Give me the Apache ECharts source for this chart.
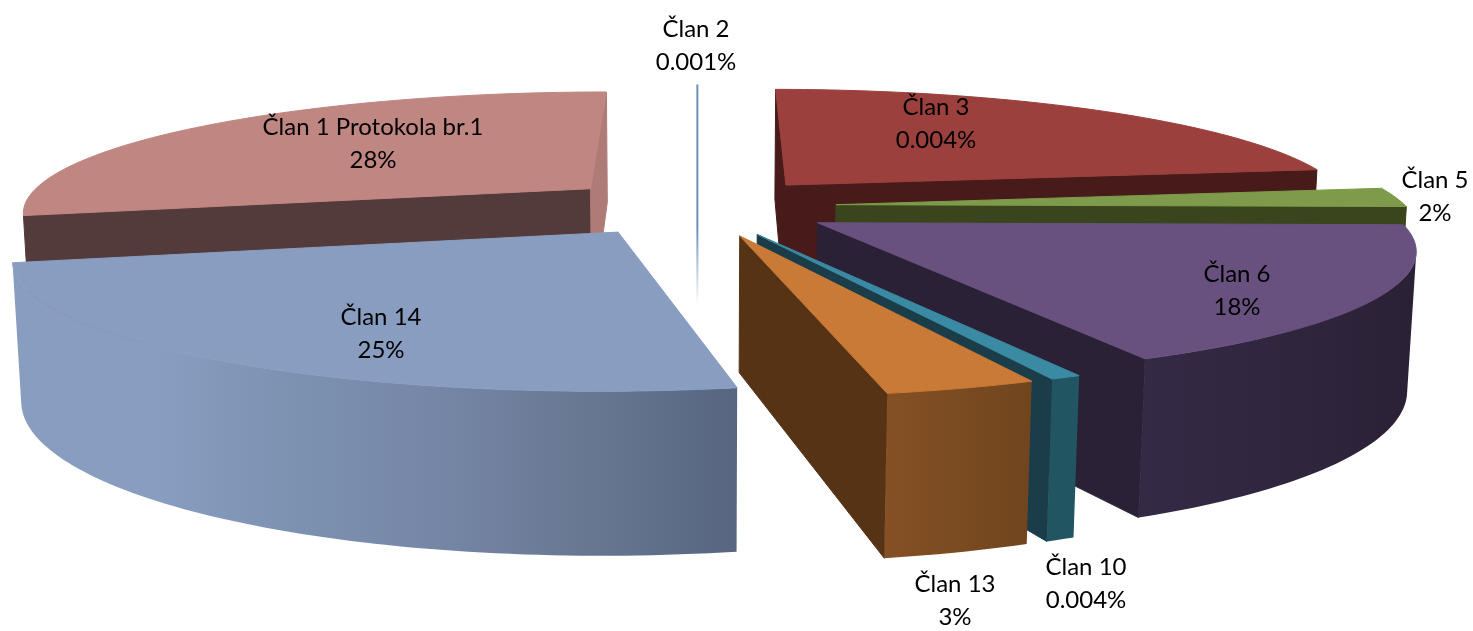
<!DOCTYPE html>
<html><head><meta charset="utf-8">
<style>html,body{margin:0;padding:0;background:#fff}#c{width:1473px;height:631px}</style>
<script src="https://cdn.jsdelivr.net/npm/echarts@6/dist/echarts.min.js"></script>
</head><body><div id="c"></div>
<script>
// Clockwise from 12 o'clock. sweepShare = share of the circle as drawn; shownPercent = printed label.
const names = ['Član 2','Član 3','Član 5','Član 6','Član 10','Član 13','Član 14','Član 1 Protokola br.1'];
const sweepShare = [0.1, 22.7, 2.5, 17.65, 0.7, 3.42, 24.43, 28.7];
const shownPercent = ['0.001%','0.004%','2%','18%','0.004%','3%','25%','28%'];
// styles
const topColors = ['#6b90b8','#9c403d','#7d9b4a','#69517f','#3b8aa3','#c97a36','#889dc0','#c08682'];
const startWall = ['#6b90b8','#471b19','#3a451d','#2b2136','#1a3d49','#1a3d49','#889dc0','#533b3b'];
const endWall   = ['#6b90b8','#471b19','#3a451d','#2b2136','#1a3d49','#573316','#889dc0','#ae7b77'];
const outerStops = [
  ['#6b90b8','#6b90b8'],['#471b19','#471b19'],['#3a451d','#3a451d'],
  ['#352a46','#2b2136'],['#225562','#225562'],['#855024','#70451e'],
  ['#889dc0','#889dc0','#7c91b0','#7585a5','#677791','#576580'],['#8f6a68','#c08682']
];
const paintOrder = [7,0,1,2,3,4,5,6];
const labelAt = [[696,46],[936,124],[1435,197],[1237,291],[1086,584],[955,601],[381,334],[373,144]];

const view = {cx:697, y0:206.5, R:570, k:120, a:0.18, m:133, b:0.012, explode:0.245};
const total = sweepShare.reduce((s,v)=>s+v,0);
const startShare = sweepShare.map((_,i)=>sweepShare.slice(0,i).reduce((s,v)=>s+v,0));

function project(X,Y,d){
  const w = 1 + view.a*Y + view.b*d;
  return [view.cx + view.R*X/w, view.y0 + (-view.k*Y + view.m*d)/w];
}
function area(p){let s=0;for(let i=0;i<p.length;i++){const q=p[(i+1)%p.length];s+=p[i][0]*q[1]-q[0]*p[i][1];}return s/2;}
function poly(points,fill,z2){return {type:'polygon',shape:{points},z2:z2||0,style:{fill,stroke:fill,lineWidth:1}};}

function renderItem(params, api){
  const i = api.value(0);
  const a0 = startShare[i]/total*2*Math.PI, a1 = (startShare[i]+sweepShare[i])/total*2*Math.PI, mid=(a0+a1)/2;
  const ax = view.explode*Math.sin(mid), ay = view.explode*Math.cos(mid);
  const n = Math.max(2,Math.ceil((a1-a0)/0.02));
  const rim = [];
  for(let j=0;j<=n;j++){const t=a0+(a1-a0)*j/n;rim.push([ax+Math.sin(t),ay+Math.cos(t)]);}
  const children = [];
  const slim = sweepShare[i] < 0.5;
  const T=(p)=>project(p[0],p[1],0), B=(p)=>project(p[0],p[1],1), A=[ax,ay];
  if(slim){
    const yTop=T(rim[0])[1], yBot=B(A)[1];
    const grad={type:'linear',global:true,x:0,y:yTop,x2:0,y2:yBot,colorStops:[{offset:0,color:topColors[i]},{offset:0.65,color:topColors[i]},{offset:1,color:'#ffffff'}]};
    children.push({type:'line',shape:{x1:T(rim[0])[0],y1:yTop,x2:B(A)[0],y2:yBot},style:{stroke:grad,lineWidth:2}});
  } else {
    const startQ=[T(A),T(rim[0]),B(rim[0]),B(A)];
    if(area(startQ)<0) children.push(poly(startQ,startWall[i]));
    const endQ=[T(rim[n]),T(A),B(A),B(rim[n])];
    if(area(endQ)<0) children.push(poly(endQ,endWall[i]));
    // outer wall: the strips that face the viewer, as one shape shaded left to right
    let first=-1,last=-1;
    for(let j=0;j<n;j++){
      const q=[T(rim[j]),T(rim[j+1]),B(rim[j+1]),B(rim[j])];
      if(area(q)<0){ if(first<0) first=j; last=j; }
    }
    if(first>=0){
      const arc=rim.slice(first,last+2);
      const pts=arc.map(T).concat(arc.slice().reverse().map(B));
      const xs=pts.map(p=>p[0]), x0=Math.min.apply(null,xs), x1=Math.max.apply(null,xs);
      const stops=outerStops[i];
      const fill={type:'linear',global:true,x:x0,y:0,x2:x1,y2:0,
        colorStops:stops.map((c,k)=>({offset:k/(stops.length-1),color:c}))};
      children.push({type:'polygon',shape:{points:pts},style:{fill}});
    }
    children.push(poly([T(A)].concat(rim.map(T)),topColors[i],1));
  }
  children.push({type:'text',z2:5,style:{text:names[i]+'\n'+shownPercent[i],x:labelAt[i][0],y:labelAt[i][1],align:'center',verticalAlign:'middle',fontFamily:'Lato',fontSize:24,lineHeight:33,fill:'#000'}});
  return {type:'group',children};
}
const chart = echarts.init(document.getElementById('c'),null,{renderer:'canvas'});
chart.setOption({
  animation:false,backgroundColor:'#fff',
  series:[{type:'custom',coordinateSystem:'none',renderItem,silent:true,clip:false,
    data:paintOrder.map(i=>[i]),encode:{}}]
});
</script></body></html>
